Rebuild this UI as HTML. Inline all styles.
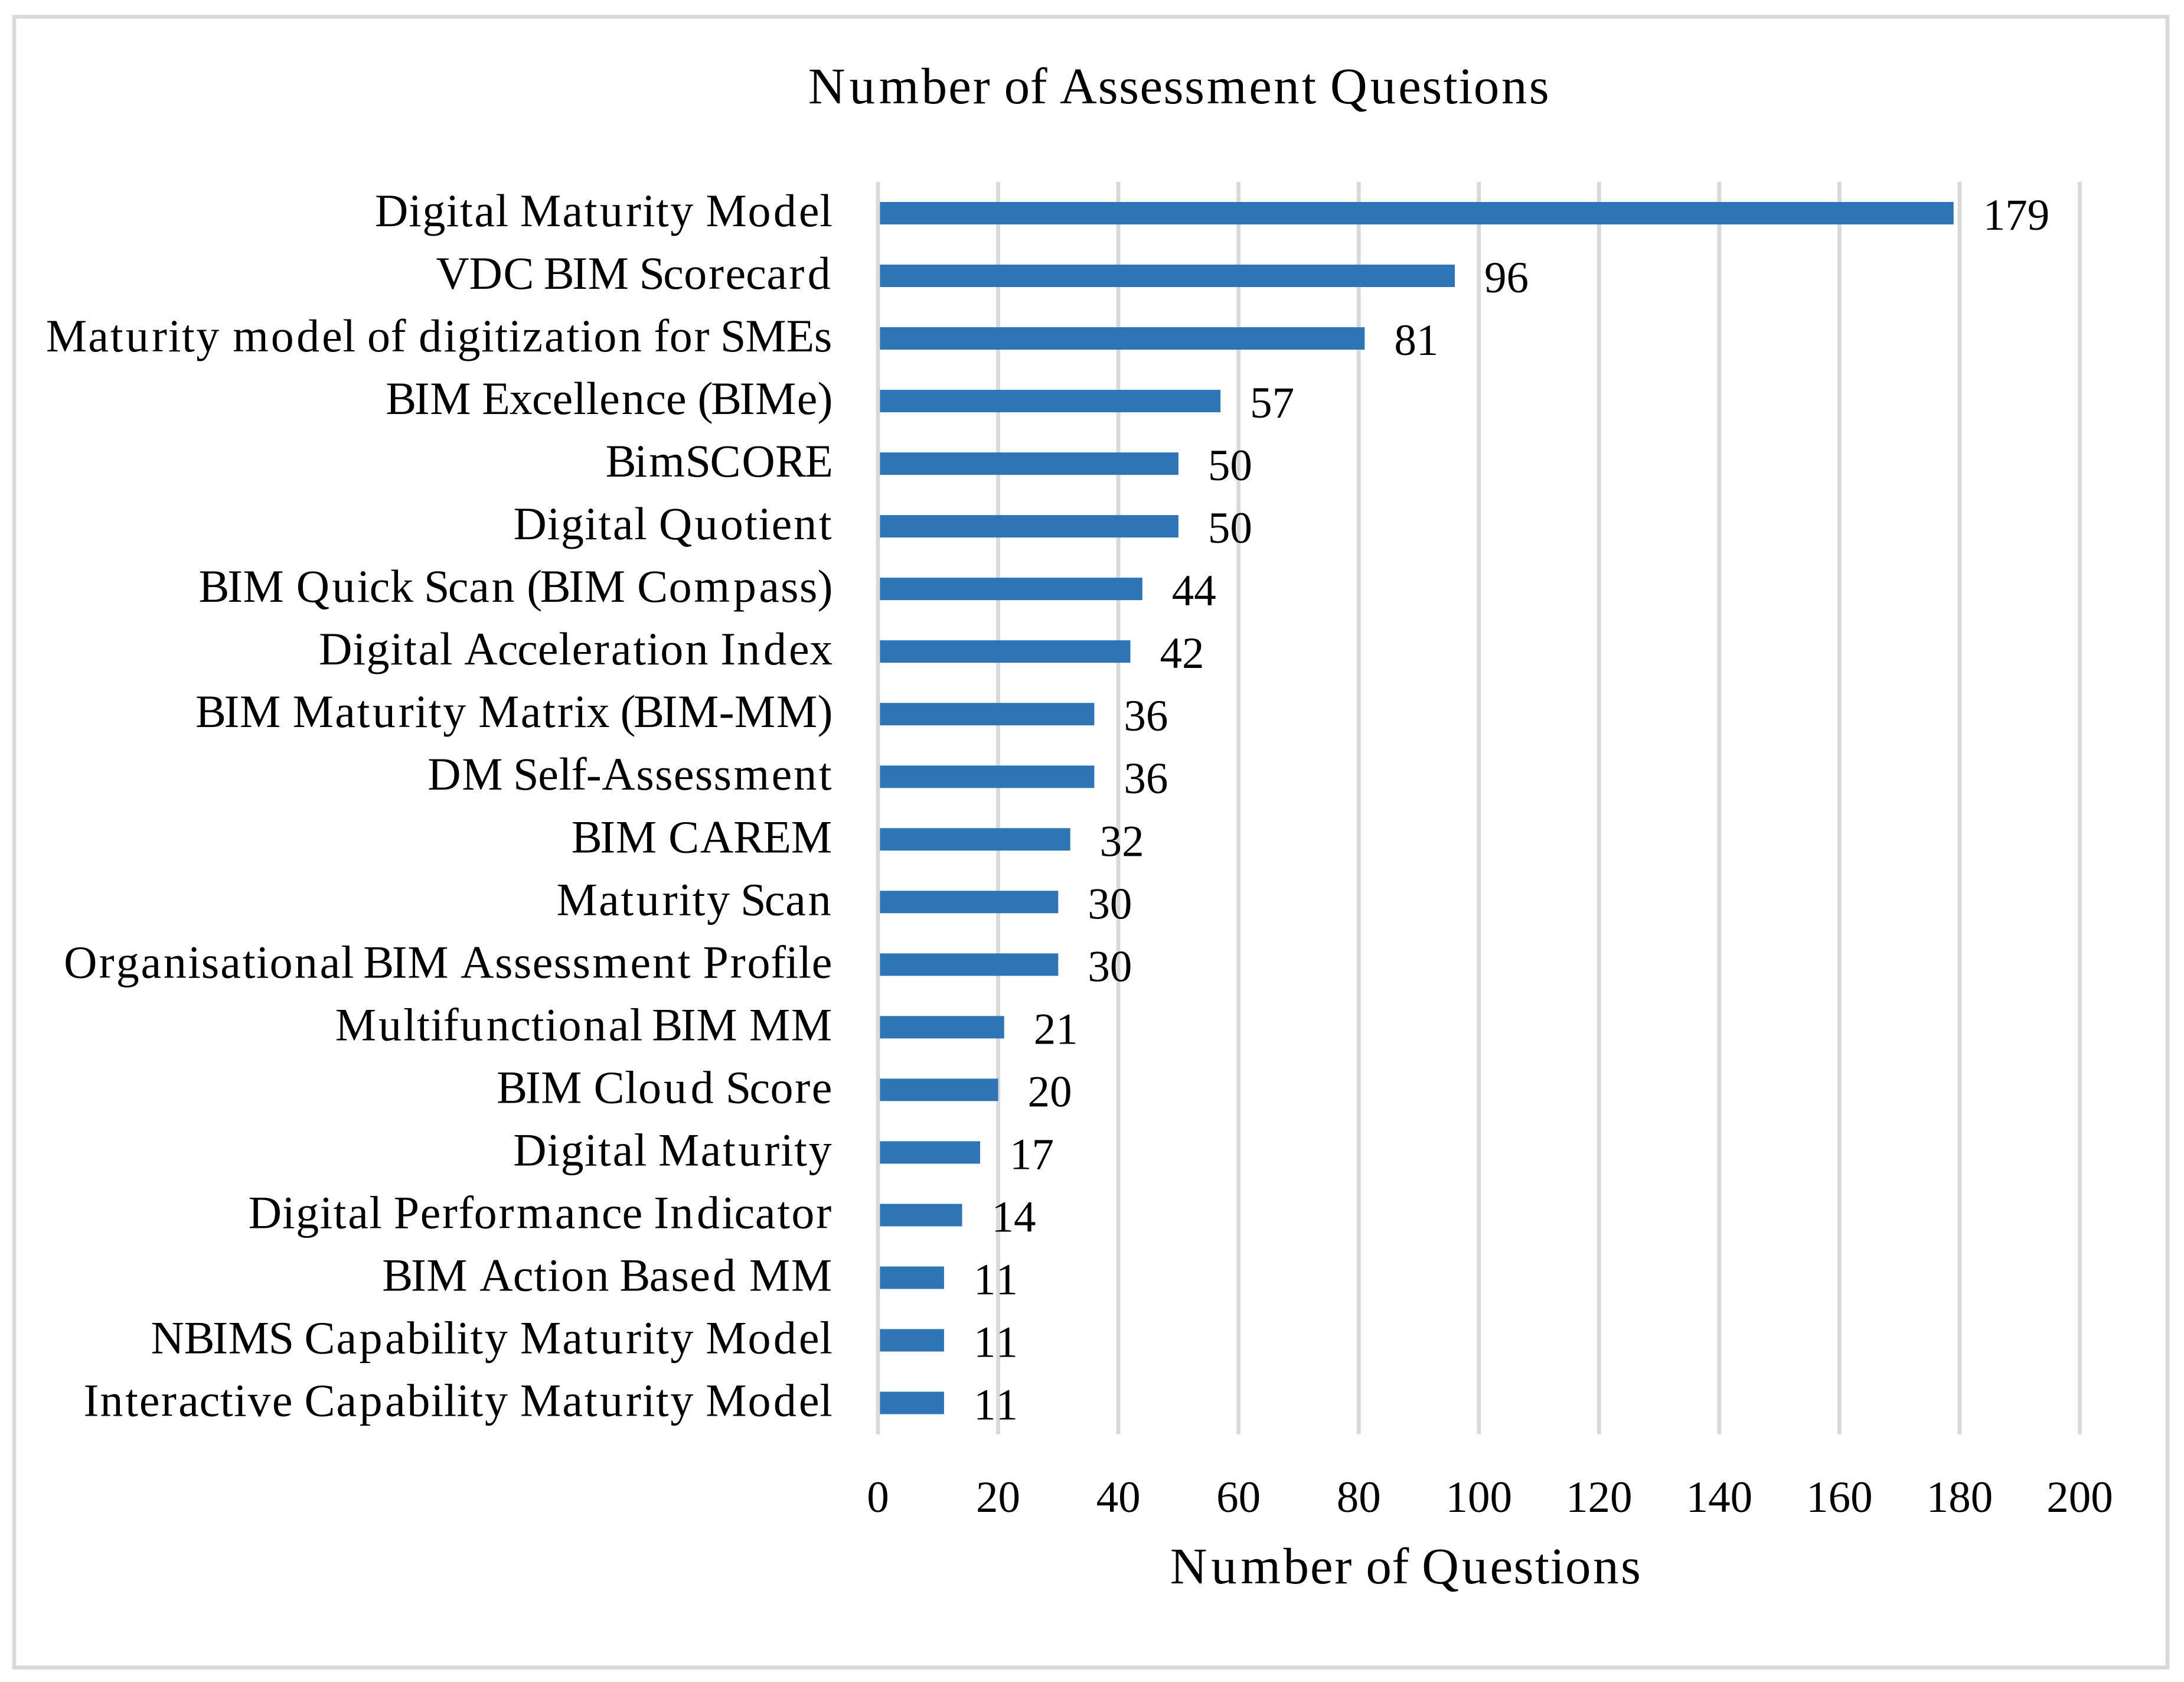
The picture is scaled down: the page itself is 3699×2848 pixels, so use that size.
<!DOCTYPE html>
<html lang="en">
<head>
<meta charset="utf-8">
<title>Number of Assessment Questions</title>
<style>
  html, body { margin: 0; padding: 0; background: #ffffff; }
  svg { display: block; }
  text { font-family: "Liberation Serif", serif; fill: #000000; font-variant-ligatures: none; font-kerning: none; }
</style>
</head>
<body>
<svg id="chart" xmlns="http://www.w3.org/2000/svg" width="3699" height="2848" viewBox="0 0 3699 2848">
  <rect x="0" y="0" width="3699" height="2848" fill="#ffffff"/>
  <rect x="24" y="28.5" width="3647" height="2795" fill="none" stroke="#d9d9d9" stroke-width="6.5"/>
  <text id="chart-title" x="1996" y="175" font-size="87">Number of Assessment Questions</text>
  <g id="grid"></g>
  <g id="bars"></g>
  <g id="categories"></g>
  <g id="values"></g>
  <g id="ticks"></g>
  <text id="axis-title" x="2380" y="2681" font-size="87">Number of Questions</text>
</svg>
<script>
const categories = [
  "Digital Maturity Model",
  "VDC BIM Scorecard",
  "Maturity model of digitization for SMEs",
  "BIM Excellence (BIMe)",
  "BimSCORE",
  "Digital Quotient",
  "BIM Quick Scan (BIM Compass)",
  "Digital Acceleration Index",
  "BIM Maturity Matrix (BIM-MM)",
  "DM Self-Assessment",
  "BIM CAREM",
  "Maturity Scan",
  "Organisational BIM Assessment Profile",
  "Multifunctional BIM MM",
  "BIM Cloud Score",
  "Digital Maturity",
  "Digital Performance Indicator",
  "BIM Action Based MM",
  "NBIMS Capability Maturity Model",
  "Interactive Capability Maturity Model"
];
const questionCounts = [179, 96, 81, 57, 50, 50, 44, 42, 36, 36, 32, 30, 30, 21, 20, 17, 14, 11, 11, 11];
const tickValues = [0, 20, 40, 60, 80, 100, 120, 140, 160, 180, 200];

const SVG_NS = "http://www.w3.org/2000/svg";
const plotLeft = 1487;
const plotRight = 3522.5;
const plotTop = 308;
const plotBottom = 2428.5;
const axisMax = 200;
const barThickness = 38;
const gridWidth = 6.8;

/* Book-face advance widths (per 1000 em) used to space the letters like the original typeface. */
const bookAdvance = {
  a:500,b:553,c:444,d:611,e:479,f:333,g:556,h:582,i:291,j:234,k:556,l:291,m:883,n:582,o:546,p:601,q:560,r:395,s:424,t:326,u:603,v:565,w:834,x:516,y:556,z:500,
  A:778,B:611,C:709,D:774,E:611,F:556,G:763,H:832,I:337,J:333,K:726,L:611,M:946,N:831,O:786,P:604,Q:786,R:668,S:525,T:613,U:778,V:722,W:1000,X:667,Y:667,Z:667,
  " ":250,"(":333,")":333,"-":333
};

function xScale(value) {
  return plotLeft + (value / axisMax) * (plotRight - plotLeft);
}
function yBand(index) {
  return plotTop + (index + 0.5) * (plotBottom - plotTop) / categories.length;
}
function advanceTotal(str, em) {
  let sum = 0;
  for (const ch of str) sum += (bookAdvance[ch] || 500) * em / 1000;
  return sum;
}
/* align: 1 = right edge at anchorX, 0.5 = centred on anchorX */
function spaceGlyphs(node, anchorX, em, align) {
  const str = node.textContent;
  const own = [];
  for (let i = 0; i < str.length; i++) own.push(node.getSubStringLength(i, 1));
  let cursor = anchorX - advanceTotal(str, em) * align;
  const xs = [];
  for (let i = 0; i < str.length; i++) {
    const adv = (bookAdvance[str[i]] || 500) * em / 1000;
    xs.push((cursor + (adv - own[i]) / 2).toFixed(2));
    cursor += adv;
  }
  node.setAttribute("x", xs.join(" "));
}

const grid = document.getElementById("grid");
const bars = document.getElementById("bars");
const cats = document.getElementById("categories");
const vals = document.getElementById("values");
const ticks = document.getElementById("ticks");

tickValues.forEach(function (t) {
  const line = document.createElementNS(SVG_NS, "line");
  
  
  line.setAttribute("x1", xScale(t));
  line.setAttribute("x2", xScale(t));
  line.setAttribute("y1", plotTop);
  line.setAttribute("y2", plotBottom);
  line.setAttribute("stroke", "#d9d9d9");
  line.setAttribute("stroke-width", gridWidth);
  grid.appendChild(line);

  const label = document.createElementNS(SVG_NS, "text");
  
  
  label.setAttribute("x", xScale(t));
  label.setAttribute("y", 2560);
  label.setAttribute("text-anchor", "middle");
  label.setAttribute("font-size", 75);
  label.textContent = String(t);
  ticks.appendChild(label);
});

categories.forEach(function (name, i) {
  const value = questionCounts[i];
  const cy = yBand(i);

  const bar = document.createElementNS(SVG_NS, "rect");
  
  
  const x0 = xScale(0) + gridWidth / 2;
  bar.setAttribute("x", x0);
  bar.setAttribute("y", cy - barThickness / 2);
  bar.setAttribute("width", Math.max(0, xScale(value) - x0));
  bar.setAttribute("height", barThickness);
  bar.setAttribute("fill", "#2e75b6");
  bars.appendChild(bar);

  const label = document.createElementNS(SVG_NS, "text");
  
  
  label.setAttribute("x", 0);
  label.setAttribute("y", cy + 22);
  label.setAttribute("font-size", 78);
  label.textContent = name;
  cats.appendChild(label);
  spaceGlyphs(label, 1410, 75, 1);

  const valueLabel = document.createElementNS(SVG_NS, "text");
  
  
  valueLabel.setAttribute("x", xScale(value) + 50);
  valueLabel.setAttribute("y", cy + 28);
  valueLabel.setAttribute("font-size", 75);
  valueLabel.textContent = String(value);
  vals.appendChild(valueLabel);
});

spaceGlyphs(document.getElementById("chart-title"), 1995, 83.6, 0.5);
spaceGlyphs(document.getElementById("axis-title"), 2379, 83.6, 0.5);
</script>
</body>
</html>
